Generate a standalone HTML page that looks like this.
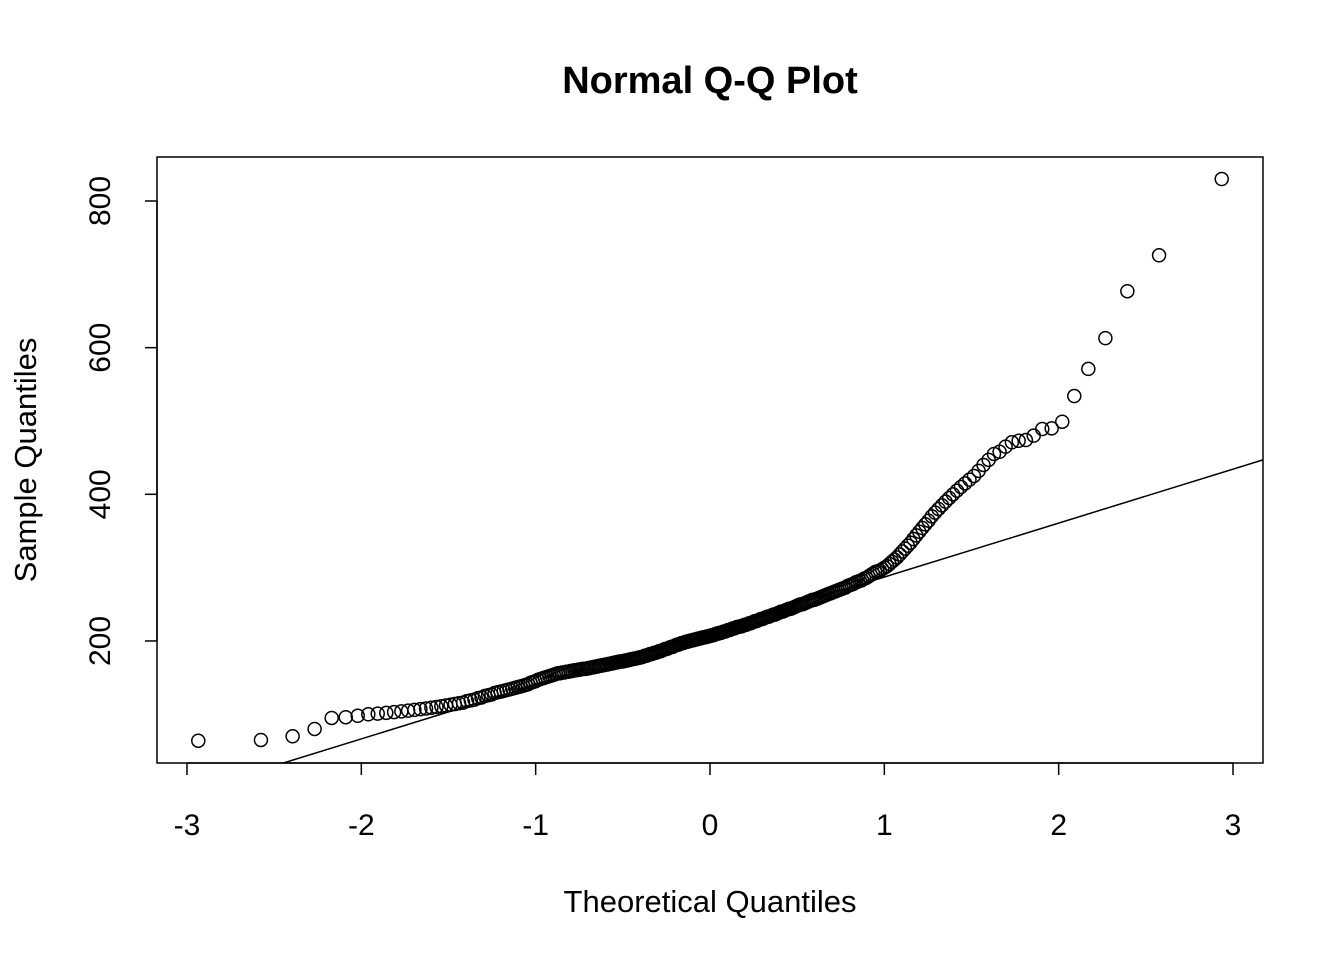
<!DOCTYPE html>
<html><head><meta charset="utf-8">
<style>
html,body{margin:0;padding:0;background:#fff;}
svg{display:block;font-family:"Liberation Sans",Arial,sans-serif;}
</style></head>
<body>
<svg id="chart" width="1344" height="960" viewBox="0 0 1344 960" xmlns="http://www.w3.org/2000/svg">
<rect x="0" y="0" width="1344" height="960" fill="#fff"/>
<text x="710" y="93" text-anchor="middle" font-size="38" font-weight="bold">Normal Q-Q Plot</text>
<text x="710" y="912" text-anchor="middle" font-size="31">Theoretical Quantiles</text>
<text x="0" y="0" transform="translate(36,460) rotate(-90)" text-anchor="middle" font-size="31">Sample Quantiles</text>
<g id="axes"></g>
<g id="marks"></g>
<rect x="157" y="157" width="1106" height="606" fill="none" stroke="#000" stroke-width="1.5"/>
</svg>
<script>
const sampleValues = [
64,65,70,80,95,96,98,100,101,102,
103,104,105,106,107,108,109,110,111,112,
113,114,115,116,118,119,120,122,123,125,
126,127,129,130,131,132,133,134,135,136,
137,138,139,140,141,143,144,145,147,148,
149,150,151,152,153,154,155,156,156,157,
157,158,158,159,159,160,160,161,161,162,
162,162,163,163,164,164,165,165,166,166,
167,167,168,168,169,169,170,170,171,171,
172,172,172,173,173,174,174,175,175,176,
176,177,177,178,178,179,180,180,181,182,
182,183,184,184,185,186,186,187,188,189,
189,190,191,192,192,193,194,195,195,196,
197,197,198,199,199,200,200,201,201,202,
202,203,203,204,204,205,205,206,206,207,
207,208,208,209,210,210,211,211,212,213,
213,214,215,215,216,217,217,218,219,219,
220,220,221,222,222,223,224,224,225,226,
227,227,228,229,230,230,231,232,233,233,
234,235,236,236,237,238,239,240,240,241,
242,243,244,244,245,246,247,248,249,250,
250,251,252,253,254,255,256,256,257,258,
259,260,261,262,263,264,265,266,267,268,
269,270,271,272,273,275,276,277,278,280,
281,282,283,285,286,288,290,292,294,295,
296,298,300,302,305,308,311,314,318,322,
326,330,334,339,344,349,354,359,364,370,
375,380,385,390,395,400,405,410,415,420,
425,432,440,447,455,458,465,471,473,474,
480,489,490,499,534,571,613,677,726,830
];
const xTicks = [-3,-2,-1,0,1,2,3];
const yTicks = [200,400,600,800];

const NS="http://www.w3.org/2000/svg";
const X0=157,X1=1263,Y0=157,Y1=763;
const xMin=-3.172,xMax=3.172,yMin=33.6,yMax=860;
function sx(v){return X0+(v-xMin)/(xMax-xMin)*(X1-X0);}
function sy(v){return Y1-(v-yMin)/(yMax-yMin)*(Y1-Y0);}
function qnorm(p){
 const a=[-3.969683028665376e+01,2.209460984245205e+02,-2.759285104469687e+02,1.383577518672690e+02,-3.066479806614716e+01,2.506628277459239e+00];
 const b=[-5.447609879822406e+01,1.615858368580409e+02,-1.556989798598866e+02,6.680131188771972e+01,-1.328068155288572e+01];
 const c=[-7.784894002430293e-03,-3.223964580411365e-01,-2.400758277161838e+00,-2.549732539343734e+00,4.374664141464968e+00,2.938163982698783e+00];
 const d=[7.784695709041462e-03,3.224671290700398e-01,2.445134137142996e+00,3.754408661907416e+00];
 let q,r;
 if(p<0.02425){q=Math.sqrt(-2*Math.log(p));return (((((c[0]*q+c[1])*q+c[2])*q+c[3])*q+c[4])*q+c[5])/((((d[0]*q+d[1])*q+d[2])*q+d[3])*q+1);}
 if(p>1-0.02425){q=Math.sqrt(-2*Math.log(1-p));return -(((((c[0]*q+c[1])*q+c[2])*q+c[3])*q+c[4])*q+c[5])/((((d[0]*q+d[1])*q+d[2])*q+d[3])*q+1);}
 q=p-0.5;r=q*q;return (((((a[0]*r+a[1])*r+a[2])*r+a[3])*r+a[4])*r+a[5])*q/(((((b[0]*r+b[1])*r+b[2])*r+b[3])*r+b[4])*r+1);
}
function quantile(arr,p){const s=arr.slice().sort((a,b)=>a-b);const h=(s.length-1)*p;const lo=Math.floor(h);return s[lo]+(h-lo)*((s[Math.min(lo+1,s.length-1)])-s[lo]);}

const axes=document.getElementById('axes');
const marks=document.getElementById('marks');
function mk(tag,attrs,parent){const e=document.createElementNS(NS,tag);for(const k in attrs)e.setAttribute(k,attrs[k]);parent.appendChild(e);return e;}

xTicks.forEach(t=>{
 const x=sx(t);
 const l=mk('line',{x1:x,y1:Y1,x2:x,y2:Y1+12,stroke:'#000','stroke-width':1.5},axes);
 
 
 const tx=mk('text',{x:x,y:835,'text-anchor':'middle','font-size':30},axes);
 
 
 tx.textContent=String(t);
});
const xl=mk('line',{x1:sx(-3),y1:Y1,x2:sx(3),y2:Y1,stroke:'#000','stroke-width':1.5},axes);


yTicks.forEach(t=>{
 const y=sy(t);
 const l=mk('line',{x1:X0-12,y1:y,x2:X0,y2:y,stroke:'#000','stroke-width':1.5},axes);
 
 
 const tx=mk('text',{x:0,y:0,transform:`translate(110,${y}) rotate(-90)`,'text-anchor':'middle','font-size':30},axes);
 
 
 tx.textContent=t;
});
const yl=mk('line',{x1:X0,y1:sy(200),x2:X0,y2:sy(800),stroke:'#000','stroke-width':1.5},axes);



const n=sampleValues.length;
const sorted=sampleValues.slice().sort((a,b)=>a-b);
sorted.forEach((v,i)=>{
 const p=n>10?(i+1-0.5)/n:(i+1-0.375)/(n+0.25);
 const c=mk('circle',{cx:sx(qnorm(p)),cy:sy(v),r:6.5,fill:'none',stroke:'#000','stroke-width':1.5},marks);
 
 
});
const q1=quantile(sampleValues,0.25),q3=quantile(sampleValues,0.75);
const z1=qnorm(0.25),z3=qnorm(0.75);
const slope=(q3-q1)/(z3-z1),icpt=q1-slope*z1;
let xa=xMin,xb=xMax;
if(icpt+slope*xa<yMin) xa=(yMin-icpt)/slope;
if(icpt+slope*xb>yMax) xb=(yMax-icpt)/slope;
const ln=mk('line',{x1:sx(xa),y1:sy(icpt+slope*xa),x2:sx(xb),y2:sy(icpt+slope*xb),stroke:'#000','stroke-width':1.5},marks);


</script>
</body></html>
